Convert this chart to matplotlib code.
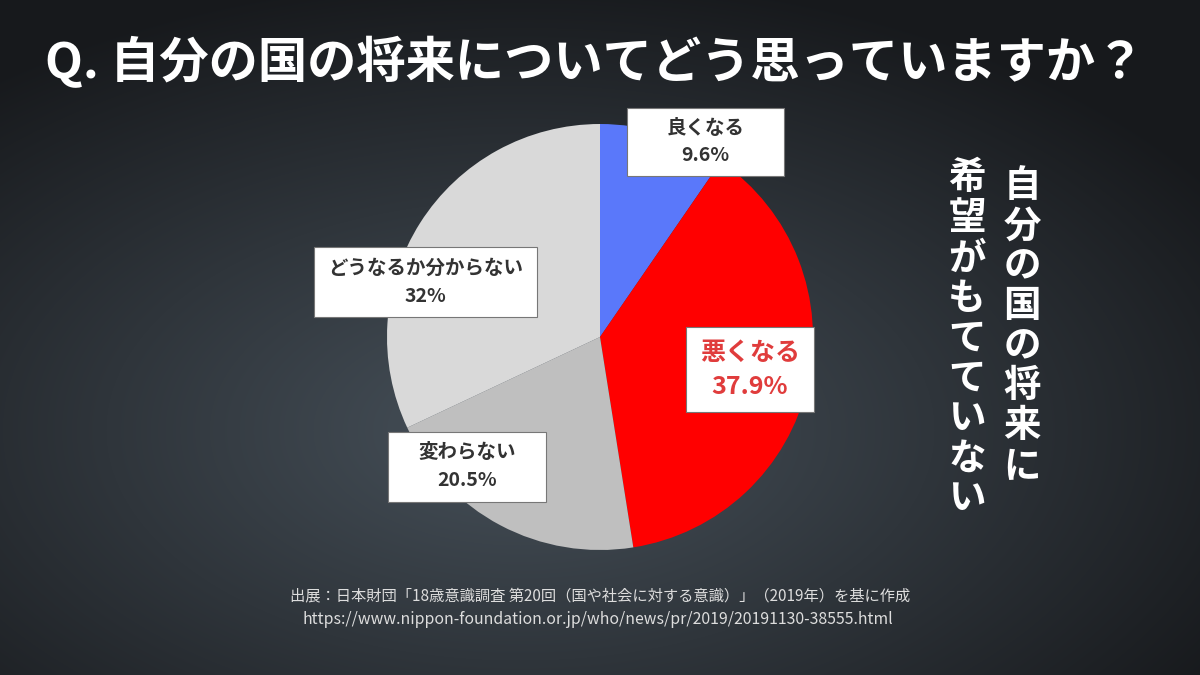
import numpy as np
import matplotlib
matplotlib.use("Agg")
import matplotlib.pyplot as plt
from matplotlib.patches import Rectangle

plt.rcParams['font.family'] = ['Noto Sans CJK JP', 'DejaVu Sans']

# data
categories = ["良くなる", "悪くなる", "変わらない", "どうなるか分からない"]
values = [9.6, 37.9, 20.5, 32.0]
value_labels = ["9.6%", "37.9%", "20.5%", "32%"]
colors = ["#5a78fa", "#ff0000", "#bfbfbf", "#d9d9d9"]

title = "Q. 自分の国の将来についてどう思っていますか？"
side_col1 = "自分の国の将来に"
side_col2 = "希望がもてていない"
source1 = "出展：日本財団「18歳意識調査 第20回（国や社会に対する意識）」（2019年）を基に作成"
source2 = "https://www.nippon-foundation.or.jp/who/news/pr/2019/20191130-38555.html"

W, H = 1200, 675
fig = plt.figure(figsize=(12, 6.75), dpi=100)

# background
bg = fig.add_axes([0, 0, 1, 1], zorder=0)
yy, xx = np.mgrid[0:H, 0:W]
d = np.sqrt(((xx - 520) / 720.0) ** 2 + ((yy - 430) / 400.0) ** 2)
t = np.clip(d, 0, 1.15) / 1.15
c_in = np.array([0x47, 0x51, 0x5a]) / 255.0
c_out = np.array([0x17, 0x19, 0x1c]) / 255.0
img = c_in[None, None, :] * (1 - t[..., None]) + c_out[None, None, :] * t[..., None]
bg.imshow(img, extent=[0, W, H, 0], aspect='auto')
bg.set_xlim(0, W)
bg.set_ylim(H, 0)
bg.axis('off')

# pie
cx, cy, r = 600, 337, 213
pax = fig.add_axes([(cx - r) / W, (H - cy - r) / H, 2 * r / W, 2 * r / H], zorder=1)
pax.pie(values, colors=colors, startangle=90, counterclock=False,
        wedgeprops=dict(linewidth=0))
pax.set_xlim(-1, 1)
pax.set_ylim(-1, 1)
pax.axis('off')

# overlay (pixel coordinates)
ov = fig.add_axes([0, 0, 1, 1], zorder=2)
ov.set_xlim(0, W)
ov.set_ylim(H, 0)
ov.axis('off')
ov.patch.set_alpha(0)

ov.text(45, 62, title, color="white", fontsize=35.5, fontweight="bold",
        ha="left", va="center")

boxes = [(627, 108, 157, 68), (686, 327, 128, 85), (388, 432, 158, 70), (314, 247, 223, 70)]
text_colors = ["#333333", "#e03c3c", "#333333", "#333333"]
sizes = [14, 18, 14, 14]
for i in range(len(categories)):
    bx, by, bw, bh = boxes[i]
    ov.add_patch(Rectangle((bx, by), bw, bh, facecolor="white",
                           edgecolor="#777777", linewidth=0.8))
    ov.text(bx + bw / 2, by + bh * 0.30, categories[i], color=text_colors[i],
            fontsize=sizes[i], fontweight="bold", ha="center", va="center")
    ov.text(bx + bw / 2, by + bh * 0.70, value_labels[i], color=text_colors[i],
            fontsize=sizes[i], fontweight="bold", ha="center", va="center")

# vertical text
pitch = 40
for k, ch in enumerate(side_col1):
    ov.text(1022, 186 + k * pitch, ch, color="white", fontsize=27,
            fontweight="bold", ha="center", va="center")
for k, ch in enumerate(side_col2):
    ov.text(967, 178 + k * pitch, ch, color="white", fontsize=27,
            fontweight="bold", ha="center", va="center")

ov.text(600, 596, source1, color="#dddddd", fontsize=11, ha="center", va="center")
ov.text(598, 619, source2, color="#dddddd", fontsize=11.4, ha="center", va="center")

fig.savefig("out.png", dpi=100)
